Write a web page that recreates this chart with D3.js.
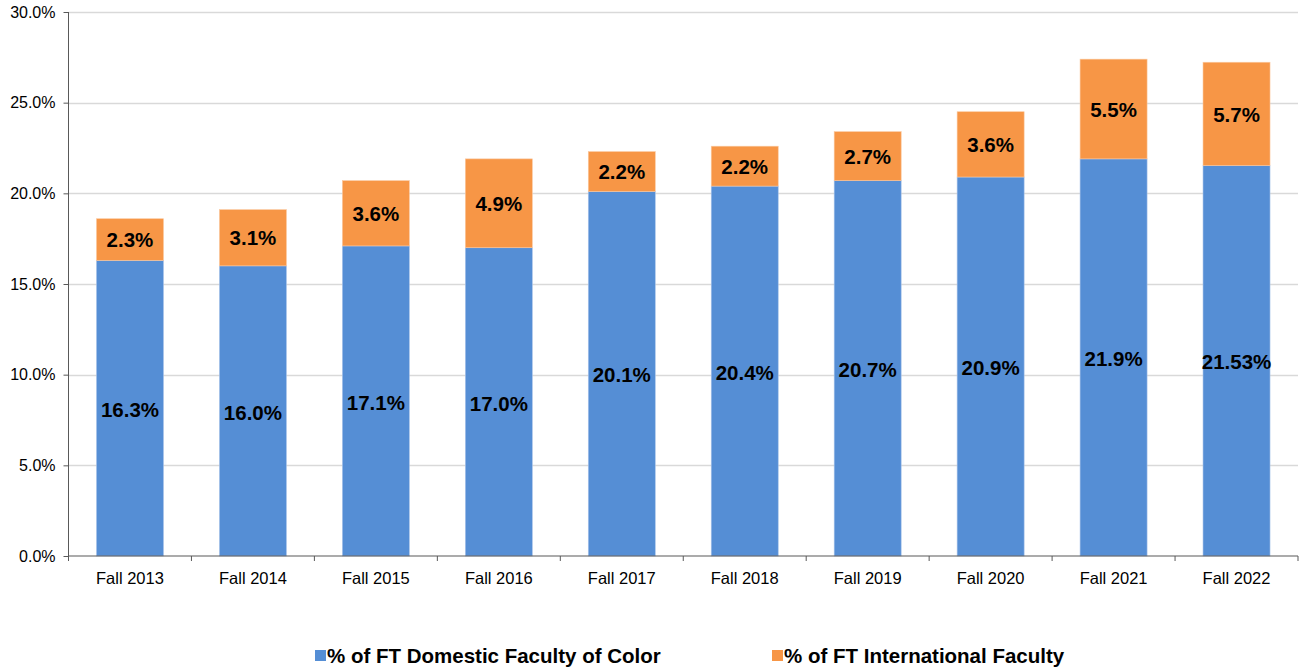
<!doctype html>
<html lang="en">
<head>
<meta charset="UTF-8">
<title>Faculty of Color</title>
<style>
  body { margin: 0; background: #fff; }
  svg text { font-family: "Liberation Sans", Arial, sans-serif; }
</style>
</head>
<body>
<svg id="chart" width="1299" height="671"></svg>
<script src="https://cdn.jsdelivr.net/npm/d3@7/dist/d3.min.js"></script>
<script>
const years = ["Fall 2013", "Fall 2014", "Fall 2015", "Fall 2016", "Fall 2017",
               "Fall 2018", "Fall 2019", "Fall 2020", "Fall 2021", "Fall 2022"]
const domestic = [16.3, 16.0, 17.1, 17.0, 20.1, 20.4, 20.7, 20.9, 21.9, 21.53]
const domesticLabels = ["16.3%", "16.0%", "17.1%", "17.0%", "20.1%", "20.4%", "20.7%", "20.9%", "21.9%", "21.53%"]
const international = [2.3, 3.1, 3.6, 4.9, 2.2, 2.2, 2.7, 3.6, 5.5, 5.7]
const yTicks = [0, 5, 10, 15, 20, 25, 30]
const seriesNames = ["% of FT Domestic Faculty of Color", "% of FT International Faculty"]
const colors = ["#558ED5", "#F79646"]

const svg = d3.select("#chart")
const plotL = 68.5, plotR = 1298, plotT = 12, plotB = 556

const x = d3.scaleBand().domain(years).range([plotL, plotR]).paddingInner(0.455).paddingOuter(0.2275)
const y = d3.scaleLinear().domain([0, 30]).range([plotB, plotT])

// gridlines
svg.append("g")
  .selectAll("line")
  .data(yTicks.filter(d => d > 0))
  .enter().append("line")
  .attr("x1", plotL).attr("x2", plotR)
  .attr("y1", d => Math.round(y(d)) + 0.5).attr("y2", d => Math.round(y(d)) + 0.5)
  .attr("stroke", "#d9d9d9").attr("stroke-width", 1.3)

const rows = years.map((yr, i) => ({year: yr, dom: domestic[i], intl: international[i], dl: domesticLabels[i]}))

const bars = svg.append("g")
bars.selectAll("rect.dom")
  .data(rows).enter().append("rect")
  .attr("class", "dom")
  .attr("x", d => x(d.year)).attr("width", x.bandwidth())
  .attr("y", d => y(d.dom)).attr("height", d => y(0) - y(d.dom))
  .attr("fill", colors[0]).attr("stroke", "#a9c4ea").attr("stroke-width", 0.6)
bars.selectAll("rect.intl")
  .data(rows).enter().append("rect")
  .attr("class", "intl")
  .attr("x", d => x(d.year)).attr("width", x.bandwidth())
  .attr("y", d => y(d.dom + d.intl)).attr("height", d => y(d.dom) - y(d.dom + d.intl))
  .attr("fill", colors[1]).attr("stroke", "#fbc9a0").attr("stroke-width", 0.6)

// labels
const lab = svg.append("g")
  .attr("font-size", 20.5).attr("font-weight", "bold").attr("text-anchor", "middle").attr("fill", "#000")
lab.selectAll("text.dom")
  .data(rows).enter().append("text")
  .attr("x", d => x(d.year) + x.bandwidth() / 2)
  .attr("y", d => y(d.dom / 2) + 1.5)
  .attr("dy", "0.35em")
  .text(d => d.dl)
lab.selectAll("text.intl")
  .data(rows).enter().append("text")
  .attr("x", d => x(d.year) + x.bandwidth() / 2)
  .attr("y", d => y(d.dom + d.intl / 2) + 0.5)
  .attr("dy", "0.35em")
  .text(d => d.intl.toFixed(1) + "%")

// y axis
const yAxis = svg.append("g")
  .attr("transform", `translate(${plotL},0)`)
  .call(d3.axisLeft(y).tickValues(yTicks).tickFormat(d => d.toFixed(1) + "%").tickSize(5).tickPadding(8))
yAxis.select(".domain").attr("stroke", "#595959").attr("d", `M0,${plotT}V${plotB}`)
yAxis.selectAll(".tick line").attr("stroke", "#595959")
yAxis.selectAll("text").attr("font-size", 16).attr("fill", "#000").attr("font-family", "Liberation Sans, Arial, sans-serif")

// x axis
const xAxis = svg.append("g").attr("transform", `translate(0,${plotB})`)
xAxis.append("line").attr("x1", plotL).attr("x2", plotR).attr("stroke", "#595959").attr("stroke-width", 1.2)
const step = x.step()
xAxis.selectAll("line.tk")
  .data(d3.range(years.length + 1)).enter().append("line")
  .attr("class", "tk")
  .attr("x1", i => plotL + i * step).attr("x2", i => plotL + i * step)
  .attr("y1", 0).attr("y2", 5).attr("stroke", "#595959")
xAxis.selectAll("text")
  .data(years).enter().append("text")
  .attr("x", d => x(d) + x.bandwidth() / 2).attr("y", 28)
  .attr("text-anchor", "middle").attr("font-size", 16.5).attr("fill", "#000")
  .text(d => d)

// legend
const legX = [315, 772]
const leg = svg.append("g").selectAll("g")
  .data(seriesNames).enter().append("g")
  .attr("transform", (d, i) => `translate(${legX[i]},650)`)
leg.append("rect").attr("width", 11).attr("height", 11).attr("fill", (d, i) => colors[i])
leg.append("text").attr("x", 12).attr("y", 6).attr("dy", "0.35em")
  .attr("font-size", 20.5).attr("font-weight", "bold").text(d => d)
</script>
</body>
</html>
